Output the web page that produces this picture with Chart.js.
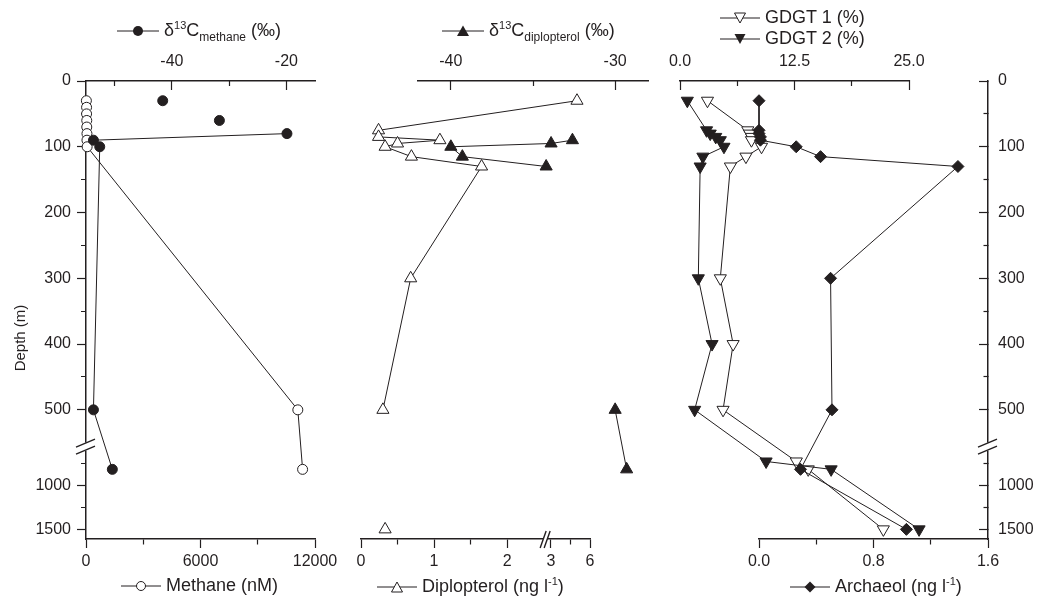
<!DOCTYPE html>
<html>
<head>
<meta charset="utf-8">
<script src="https://cdn.jsdelivr.net/npm/chart.js@4.4.1/dist/chart.umd.min.js"></script>
<style>
  body { margin: 0; background: #fff; }
  #wrap { position: relative; width: 1038px; height: 596px; overflow: hidden;
          font-family: "Liberation Sans", Arial, sans-serif; color: #231f20; }
  #wrap canvas { position: absolute; left: 0; top: 0; }
  .lab { position: absolute; white-space: nowrap; font-size: 18px; line-height: 20px; }
  .lab svg { vertical-align: -1px; margin-right: 5px; }
  .lab sup { font-size: 11px; vertical-align: 7px; line-height: 0; }
  .lab sub { font-size: 12px; vertical-align: -5px; line-height: 0; }
  #depth { position: absolute; left: -20px; top: 329px; width: 80px; text-align: center;
           font-size: 15px; line-height: 18px; transform: rotate(-90deg); }
</style>
</head>
<body>
<div id="wrap">
  <canvas id="c1" width="1038" height="596"></canvas>
  <canvas id="c2a" width="1038" height="596"></canvas>
  <canvas id="c2b" width="1038" height="596"></canvas>
  <canvas id="c3a" width="1038" height="596"></canvas>
  <canvas id="c3b" width="1038" height="596"></canvas>

  <div class="lab" style="left:117px; top:20px">
    <svg width="42" height="12"><line x1="0" y1="6" x2="42" y2="6" stroke="#231f20"/><circle cx="21" cy="6" r="5" fill="#231f20"/></svg>δ<sup>13</sup>C<sub>methane</sub> (‰)
  </div>
  <div class="lab" style="left:442px; top:20px">
    <svg width="42" height="12"><line x1="0" y1="6" x2="42" y2="6" stroke="#231f20"/><polygon points="21,0.5 27,11 15,11" fill="#231f20"/></svg>δ<sup>13</sup>C<sub>diplopterol</sub> (‰)
  </div>
  <div class="lab" style="left:720px; top:7px">
    <svg width="40" height="12"><line x1="0" y1="6" x2="40" y2="6" stroke="#231f20"/><polygon points="14.5,1 25.5,1 20,11" fill="#fff" stroke="#231f20"/></svg>GDGT 1 (%)
  </div>
  <div class="lab" style="left:720px; top:28px">
    <svg width="40" height="12"><line x1="0" y1="6" x2="40" y2="6" stroke="#231f20"/><polygon points="14.5,1 25.5,1 20,11" fill="#231f20"/></svg>GDGT 2 (%)
  </div>
  <div class="lab" style="left:121px; top:575px">
    <svg width="40" height="12"><line x1="0" y1="6" x2="40" y2="6" stroke="#231f20"/><circle cx="20" cy="6" r="4.5" fill="#fff" stroke="#231f20"/></svg>Methane (nM)
  </div>
  <div class="lab" style="left:377px; top:576px">
    <svg width="40" height="12"><line x1="0" y1="6" x2="40" y2="6" stroke="#231f20"/><polygon points="20,1 25.5,11 14.5,11" fill="#fff" stroke="#231f20"/></svg>Diplopterol (ng l<sup>-1</sup>)
  </div>
  <div class="lab" style="left:790px; top:576px">
    <svg width="40" height="12"><line x1="0" y1="6" x2="40" y2="6" stroke="#231f20"/><polygon points="20,0.5 25.5,6 20,11.5 14.5,6" fill="#231f20"/></svg>Archaeol (ng l<sup>-1</sup>)
  </div>
  <div id="depth">Depth (m)</div>
</div>

<script>
// depth profile, water column (m)
const depthTicks = [0, 50, 100, 150, 200, 250, 300, 350, 400, 450, 500, 750, 1000, 1250, 1500];
const depthLabels = ['0', '', '100', '', '200', '', '300', '', '400', '', '500', '', '1000', '', '1500'];

// methane panel
const p1Depth = [30, 40, 50, 60, 70, 80, 90, 100, 500, 815];
const methaneNM = [20, 30, 30, 40, 40, 50, 50, 60, 11100, 11350];
const d13CMethane = [-41.6, null, null, -31.7, null, -19.9, -53.7, -52.6, -53.7, -50.4];
const methaneTicks = [0, 3000, 6000, 9000, 12000];
const methaneLabels = ['0', '', '6000', '', '12000'];
const d13CMethTicks = [-50, -40, -30, -20];
const d13CMethLabels = ['', '-40', '', '-20'];

// diplopterol panel
const p2Depth = [30, 75, 85, 90, 95, 100, 115, 130, 300, 500, 815, 1500];
const diplopterol = [5.0, 0.24, 0.24, 1.08, 0.50, 0.33, 0.69, 1.65, 0.68, 0.30, null, 0.33];
const d13CDiplopterol = [null, null, null, -32.6, -33.9, -40.0, -39.3, -34.2, null, -30.0, -29.3, null];
const diplTicks = [0, 0.5, 1, 1.5, 2, 3, 4.5, 6];
const diplLabels = ['0', '', '1', '', '2', '3', '', '6'];
const d13CDiplTicks = [-40, -35, -30];
const d13CDiplLabels = ['-40', '', '-30'];

// archaeal lipids panel
const p3Depth = [30, 75, 80, 85, 90, 100, 115, 130, 300, 400, 500, 725, 815, 1500];
const gdgt1 = [3.0, 7.4, 7.6, 7.8, 7.8, 8.9, 7.2, 5.5, 4.4, 5.8, 4.7, 12.7, 14.0, 22.2];
const gdgt2 = [0.8, 2.9, 3.3, 3.9, 4.4, 4.8, 2.5, 2.2, 2.0, 3.5, 1.6, 9.4, 16.5, 26.1];
const archaeol = [0.0, 0.0, 0.0, 0.01, 0.01, 0.26, 0.43, 1.39, 0.50, null, 0.51, null, 0.29, 1.03];
const gdgtTicks = [0, 6.25, 12.5, 18.75, 25];
const gdgtLabels = ['0.0', '', '12.5', '', '25.0'];
const archTicks = [0, 0.4, 0.8, 1.2, 1.6];
const archLabels = ['0.0', '', '0.8', '', '1.6'];

const INK = '#231f20';
const FONT = '"Liberation Sans", Arial, sans-serif';
const W = 1038, H = 596, AREA_TOP = 81, AREA_BOTTOM = 539;
const TOP_H = 30, BOTTOM_H = 30, SIDE_W = 50;

// broken depth axis: linear to the break, compressed below it
const BREAK_D = 556, LOW_SCALE = 0.1332;
function depthPos(d) { return d <= BREAK_D ? d : BREAK_D + (d - BREAK_D) * LOW_SCALE; }
const Y_MAX = depthPos(1610);

// broken diplopterol axis (0-2.5 | 3-6)
function diplPos(v) { return v <= 2.5 ? v : 2.6 + (v - 3) * 0.178; }

function tickAxis(position, min, max, vals, labels) {
  const inward = position === 'top' || position === 'right';
  const fromAxis = position === 'bottom' || position === 'right';
  const pad = {top: 19, bottom: 4, left: 6, right: 19}[position];
  return {
    type: 'linear', position, min, max,
    afterBuildTicks: s => { s.ticks = vals.map(v => ({value: v})); },
    afterFit: s => {
      if (position === 'top') s.height = TOP_H;
      else if (position === 'bottom') s.height = BOTTOM_H;
      else s.width = SIDE_W;
    },
    border: {display: true, color: INK, width: 1.5},
    grid: {
      drawOnChartArea: false,
      tickLength: inward ? -9 : 9,
      tickColor: INK,
      tickWidth: 1.2,
      // minor ticks: shorter, kept against the axis line
      tickBorderDash: c => labels[c.index] ? [] : (fromAxis ? [5, 100] : [0, 4, 100, 0])
    },
    ticks: {
      autoSkip: false, maxRotation: 0, minRotation: 0, padding: pad, color: INK,
      font: {family: FONT, size: 16},
      callback: (v, i) => labels[i]
    }
  };
}

function depthAxis(position) {
  const a = tickAxis(position, 0, Y_MAX, depthTicks.map(depthPos), depthLabels);
  a.reverse = true;
  return a;
}
const hiddenDepth = {type: 'linear', display: false, reverse: true, min: 0, max: Y_MAX};

function series(xs, depths, xAxis, shape, radius, fill, rot, span) {
  return {
    data: depths.map((d, i) => ({x: xs[i], y: depthPos(d)})),
    xAxisID: xAxis, yAxisID: 'y',
    showLine: true, borderColor: INK, borderWidth: 1,
    pointStyle: shape, pointRadius: radius, pointRotation: rot || 0,
    pointBackgroundColor: fill, pointBorderColor: INK, pointBorderWidth: 1,
    spanGaps: !!span, clip: false
  };
}

function drawBreak(ctx, cx, cy, vertical) {
  ctx.save();
  ctx.fillStyle = '#fff';
  ctx.strokeStyle = INK;
  ctx.lineWidth = 1.4;
  if (vertical) {
    ctx.fillRect(cx - 2, cy - 4, 4, 8);
    [-3.5, 3.5].forEach(o => {
      ctx.beginPath(); ctx.moveTo(cx - 10, cy + o + 4); ctx.lineTo(cx + 9, cy + o - 4); ctx.stroke();
    });
  } else {
    ctx.fillRect(cx - 2, cy - 2, 4, 4);
    [-2, 2].forEach(o => {
      ctx.beginPath(); ctx.moveTo(cx + o - 3, cy + 9); ctx.lineTo(cx + o + 3, cy - 8); ctx.stroke();
    });
  }
  ctx.restore();
}

const yBreak = {
  id: 'yBreak',
  afterDraw(chart) {
    const y = chart.scales.y;
    const x = y.position === 'left' ? chart.chartArea.left : chart.chartArea.right;
    drawBreak(chart.ctx, x, y.getPixelForValue(BREAK_D), true);
  }
};
const diplBreak = {
  id: 'diplBreak',
  afterDraw(chart) {
    const x = chart.scales.x;
    drawBreak(chart.ctx, x.getPixelForValue(2.52), chart.chartArea.bottom, false);
  }
};
// let markers that sit just past the axis end still be drawn
const looseArea = {
  id: 'looseArea',
  beforeDatasetsDraw(chart) {
    chart.$savedArea = Object.assign({}, chart.chartArea);
    chart.chartArea.right += 20;
  },
  afterDatasetsDraw(chart) { Object.assign(chart.chartArea, chart.$savedArea); }
};

function build(id, left, right, scales, datasets, extra) {
  const vis = p => Object.values(scales).some(s => s.display !== false && s.position === p);
  const padding = {
    left: left - (vis('left') ? SIDE_W : 0),
    right: W - right - (vis('right') ? SIDE_W : 0),
    top: AREA_TOP - (vis('top') ? TOP_H : 0),
    bottom: H - AREA_BOTTOM - (vis('bottom') ? BOTTOM_H : 0)
  };
  return new Chart(document.getElementById(id), {
    type: 'scatter',
    data: {datasets},
    options: {
      responsive: false, animation: false, events: [],
      layout: {padding},
      plugins: {legend: {display: false}, tooltip: {enabled: false}},
      scales
    },
    plugins: extra || []
  });
}

Chart.defaults.font.family = FONT;

// panel 1: methane and its d13C
build('c1', 86, 315, {
  x: tickAxis('bottom', 0, 12000, methaneTicks, methaneLabels),
  x2: tickAxis('top', -55, -15, d13CMethTicks, d13CMethLabels),
  y: depthAxis('left')
}, [
  series(d13CMethane, p1Depth, 'x2', 'circle', 5, INK),
  series(methaneNM, p1Depth, 'x', 'circle', 5, '#fff')
], [yBreak]);

// panel 2: diplopterol concentration (bottom) and d13C (top)
build('c2a', 361, 590, {
  x: tickAxis('bottom', 0, diplPos(6), diplTicks.map(diplPos), diplLabels),
  y: hiddenDepth
}, [
  series(diplopterol.map(v => v === null ? null : diplPos(v)), p2Depth, 'x', 'triangle', 7, '#fff')
], [diplBreak]);

build('c2b', 418, 648, {
  x: tickAxis('top', -42, -28, d13CDiplTicks, d13CDiplLabels),
  y: hiddenDepth
}, [
  series(d13CDiplopterol, p2Depth, 'x', 'triangle', 7, INK)
]);

// panel 3: GDGTs (top) and archaeol (bottom)
build('c3a', 680, 909, {
  x: tickAxis('top', 0, 25, gdgtTicks, gdgtLabels),
  y: hiddenDepth
}, [
  series(gdgt2, p3Depth, 'x', 'triangle', 7, INK, 180),
  series(gdgt1, p3Depth, 'x', 'triangle', 7, '#fff', 180)
], [looseArea]);

build('c3b', 759, 988, {
  x: tickAxis('bottom', 0, 1.6, archTicks, archLabels),
  y: depthAxis('right')
}, [
  series(archaeol, p3Depth, 'x', 'rectRot', 6, INK, 0, true)
], [yBreak]);
</script>
</body>
</html>
